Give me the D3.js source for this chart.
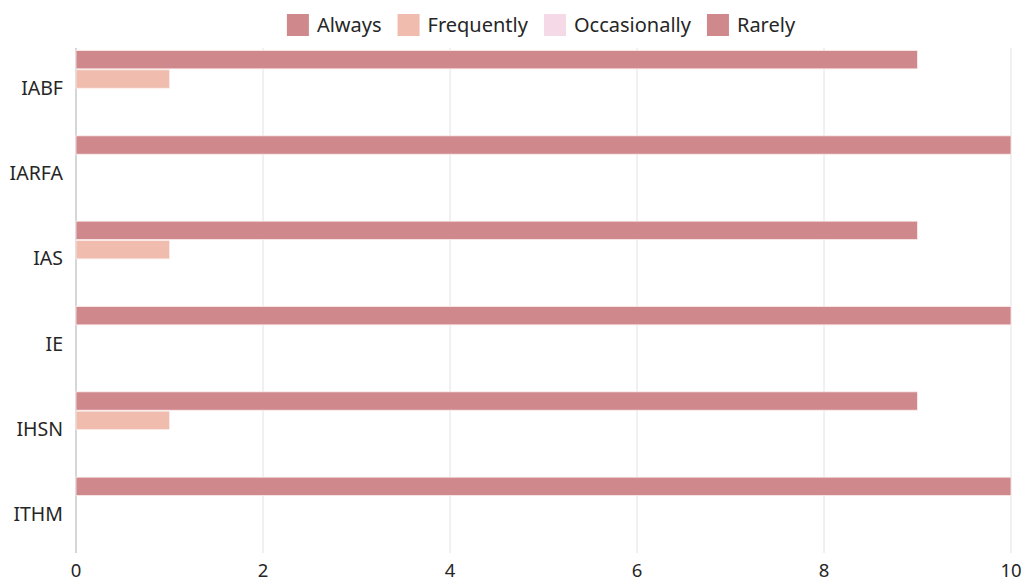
<!DOCTYPE html>
<html>
<head>
<meta charset="utf-8">
<script src="https://cdn.jsdelivr.net/npm/d3@7"></script>
<style>
  html, body { margin: 0; padding: 0; background: #fff; }
  svg { display: block; font-family: "Noto Sans", "Open Sans", sans-serif; }
</style>
</head>
<body>
<svg id="chart" width="1026" height="583"></svg>
<script>
// Programmes and response frequencies
const categories = ["IABF", "IARFA", "IAS", "IE", "IHSN", "ITHM"];
const seriesNames = ["Always", "Frequently", "Occasionally", "Rarely"];
const always       = [9, 10, 9, 10, 9, 10];
const frequently   = [1, 0, 1, 0, 1, 0];
const occasionally = [0, 0, 0, 0, 0, 0];
const rarely       = [0, 0, 0, 0, 0, 0];
const xTicks = [0, 2, 4, 6, 8, 10];
const colors = ["#cf888c", "#efbcad", "#f5d9e6", "#cf888c"];

const seriesValues = [always, frequently, occasionally, rarely];

const svg = d3.select("#chart");
const margin = { left: 76, right: 15, top: 45, bottom: 26 };
const W = 1026, H = 583;
const textColor = "#262626";

const x = d3.scaleLinear().domain([0, 10]).range([margin.left, W - margin.right]);
const y = d3.scaleBand().domain(categories).range([margin.top, margin.top + 512]).paddingInner(0).paddingOuter(0);
const inner = d3.scaleBand().domain(seriesNames).range([5.5, y.bandwidth() - 3.5]).paddingInner(0.05);

const gridTop = 48, gridBottom = 553;

// vertical grid lines
svg.append("g")
  .selectAll("line")
  .data(xTicks)
  .join("line")
  .attr("x1", d => x(d)).attr("x2", d => x(d))
  .attr("y1", gridTop).attr("y2", gridBottom)
  .attr("stroke", d => d === 0 ? "#c8c8c8" : "#e2e2e2")
  .attr("stroke-width", d => d === 0 ? 1.5 : 1);

// x tick labels
svg.append("g")
  .selectAll("text")
  .data(xTicks)
  .join("text")
  .attr("x", d => x(d))
  .attr("y", 577)
  .attr("text-anchor", "middle")
  .attr("font-size", 18.5)
  .attr("fill", textColor)
  .text(d => d);

// category labels
svg.append("g")
  .selectAll("text")
  .data(categories)
  .join("text")
  .attr("x", 63)
  .attr("y", d => y(d) + y.bandwidth() / 2)
  .attr("dy", "0.36em")
  .attr("text-anchor", "end")
  .attr("font-size", 19.5)
  .attr("fill", textColor)
  .text(d => d);

// bars
const rows = [];
categories.forEach((c, i) => {
  seriesNames.forEach((s, j) => {
    rows.push({ cat: c, series: s, value: seriesValues[j][i], color: colors[j] });
  });
});

svg.append("g")
  .selectAll("rect")
  .data(rows.filter(r => r.value > 0))
  .join("rect")
  .attr("x", x(0))
  .attr("y", d => y(d.cat) + inner(d.series))
  .attr("width", d => x(d.value) - x(0))
  .attr("height", inner.bandwidth())
  .attr("fill", d => d.color)
  .attr("stroke", "#fbecec")
  .attr("stroke-width", 0.8);

// legend
const legend = svg.append("g");
let cursor = 0;
seriesNames.forEach((s, j) => {
  const g = legend.append("g");
  g.append("rect")
    .attr("x", 0).attr("y", 14)
    .attr("width", 22).attr("height", 22)
    .attr("fill", colors[j]);
  const t = g.append("text")
    .attr("x", 30).attr("y", 25)
    .attr("dy", "0.36em")
    .attr("font-size", 20)
    .attr("fill", textColor)
    .text(s);
  const w = 30 + t.node().getComputedTextLength();
  g.attr("transform", `translate(${cursor},0)`);
  cursor += w + 16;
});
const totalW = cursor - 16;
legend.attr("transform", `translate(${541 - totalW / 2},0)`);
</script>
</body>
</html>
